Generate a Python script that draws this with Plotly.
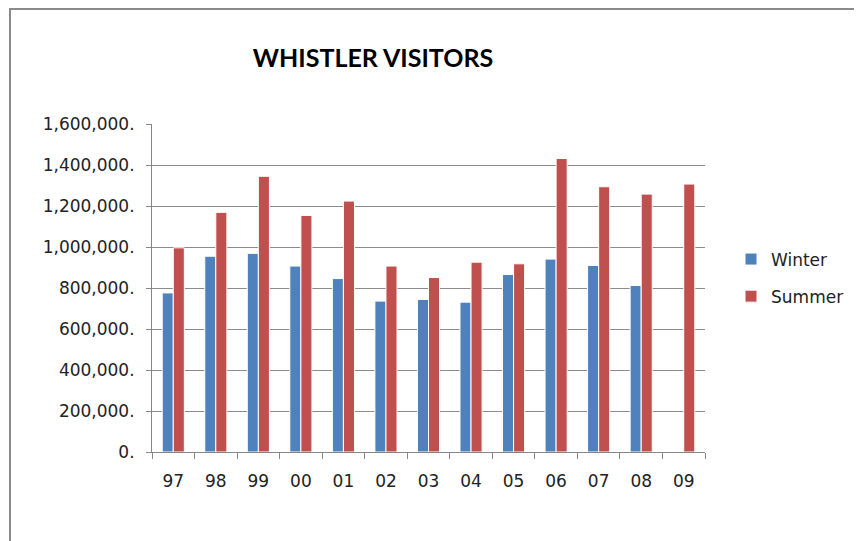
import plotly.graph_objects as go

years = ["97", "98", "99", "00", "01", "02", "03", "04", "05", "06", "07", "08", "09"]
winter = [776000, 955000, 969000, 907000, 846000, 736000, 744000, 731000, 866000, 941000, 910000, 812000, None]
summer = [996000, 1169000, 1345000, 1154000, 1224000, 907000, 851000, 926000, 918000, 1432000, 1294000, 1258000, 1307000]
ytick_vals = [0, 200000, 400000, 600000, 800000, 1000000, 1200000, 1400000, 1600000]
ytick_text = ["0.", "200,000.", "400,000.", "600,000.", "800,000.", "1,000,000.",
              "1,200,000.", "1,400,000.", "1,600,000."]

fig = go.Figure()
fig.add_trace(go.Bar(x=years, y=winter, name="Winter", legendgroup="w",
                     marker=dict(color="#4F81BD", line=dict(color="white", width=1))))
fig.add_trace(go.Bar(x=years, y=summer, name="Summer", legendgroup="s",
                     marker=dict(color="#C0504D", line=dict(color="white", width=1))))

OFF = 8  # page body margin
W, H = 862 - OFF, 541 - OFF
# target screen coords of the plot area
sx0, sx1, sy0, sy1 = 152, 705, 124, 452
L, R, T, B = sx0 - OFF, W - (sx1 - OFF), sy0 - OFF, H - (sy1 - OFF)
pw, ph = W - L - R, H - T - B


def px(sx):
    return (sx - sx0) / pw


def py(sy):
    return (sy1 - sy) / ph


fig.update_layout(
    width=W, height=H,
    margin=dict(l=L, r=R, t=T, b=B, autoexpand=False),
    paper_bgcolor="white", plot_bgcolor="white",
    barmode="group", bargap=0.48, bargroupgap=0.0,
    font=dict(family="DejaVu Sans", size=17, color="#222222"),
    title=dict(text="<b>WHISTLER VISITORS</b>", x=(373 - OFF) / W, xanchor="center",
               y=1 - (58 - OFF) / H, yanchor="middle", yref="container",
               font=dict(family="Lato", size=25, color="black")),
    showlegend=True,
    legend=dict(x=px(731), xanchor="left", y=py(278), yanchor="middle",
                traceorder="grouped", tracegroupgap=12,
                font=dict(family="DejaVu Sans", size=17, color="#222222"),
                bgcolor="rgba(0,0,0,0)"),
    xaxis=dict(showgrid=False, showline=True, linecolor="#868686", linewidth=1,
               ticks="outside", tickson="boundaries", ticklen=6, tickcolor="#868686",
               tickfont=dict(size=17), ticklabelstandoff=14, range=[-0.5, 12.5]),
    yaxis=dict(range=[0, 1600000], tickvals=ytick_vals, ticktext=ytick_text,
               showgrid=True, gridcolor="#8c8c8c", gridwidth=1,
               showline=True, linecolor="#868686", linewidth=1,
               ticks="outside", ticklen=5, tickcolor="#868686",
               tickfont=dict(size=17), ticklabelstandoff=8, zeroline=False),
    shapes=[dict(type="rect", xref="paper", yref="paper",
                 x0=px(10), x1=px(900),
                 y0=py(580), y1=py(9),
                 line=dict(color="#8a8a8a", width=2), fillcolor="rgba(0,0,0,0)",
                 layer="below")],
)

fig.write_html("out.html")
